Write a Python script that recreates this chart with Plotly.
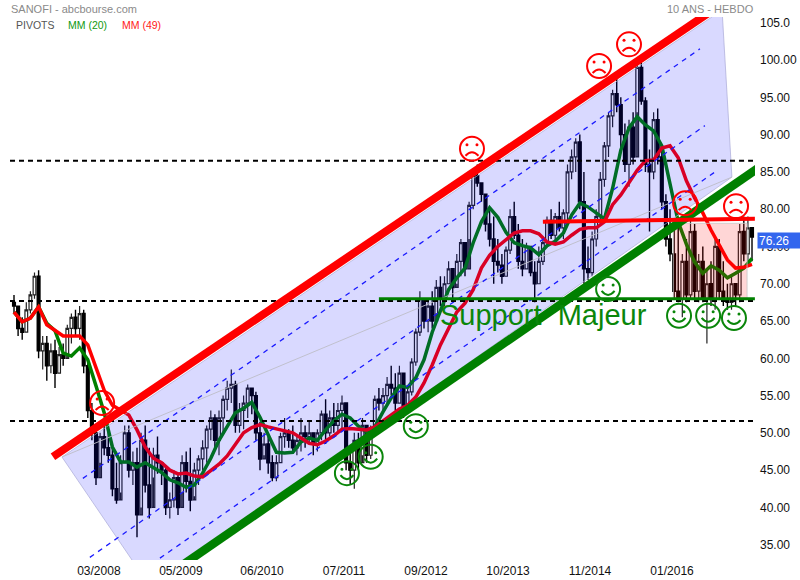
import plotly.graph_objects as go

# weekly price candles, sampled along the time axis (bar index)
high = [68.5,67,65.5,67.5,69,71.5,71.8,63,63,62,
        62.5,61.5,62,64.5,66,66.5,67,66.5,60,54,
        51,50,51.5,50.5,48,46,47,51,51,47.5,
        48,50,51,48,48,49.5,46,45.5,42,45,
        44.5,47,47.5,48,46,47,49,51,53,52.5,
        53,55,57,58.5,57,54,55,56.5,56,55.5,
        51.5,50,49.5,47,47,50,52,50.5,51,49.5,
        52,51,51.5,50,50.5,53,54.5,53,54,54,
        55,54,47.5,50,50,52,50,51,55,56,
        56,57.5,59,58,59,55.5,56,60,64,69,
        68,68,69,70.5,71,71,73,72,74,76,
        75,81,85,86,83.5,82,80,79,76,74,
        75,80,81,78,76,75.5,74,73,75,76,
        79,80,79.5,81,80,86,88,89.5,90,85,
        75,77,80,85,89,93,96,98,95,91.5,
        92,93,99.5,100,95,88,93,93.5,88,82,
        80,78,77.5,74,76,78.5,78,74,75,72,
        73,76,76,73,70,71,69.5,78,79,79,76.5]
low = [66,63,62.5,63.5,66,68,60,58.5,57,58,
       56,58,59,60.5,62,63,62.5,58,52,49,
       43,46,47,46,41.5,40.5,42,46,44,43,
       36,40,42,38.5,44,44.5,43,39,38.5,40,
       39,42,42,39.5,41.5,43,45,46,49,48,
       47,50,53,54,50,50,50.5,52,52.5,49,
       45,47,44.5,43.5,43.5,46,48,48,47.5,47,
       47.5,48,48.5,47,47.5,49,48.5,49.5,50,50,
       50.5,45,43,42.5,45,47,46,46.5,50,53,
       53,54,55,53,54,52,53,55,59,63,
       64,63.5,64,66,67,67,70,68,70,71,
       71,76,80,83,81,77,75,70,71.5,70,
       71,74,76,72,71,72,71,67.5,70,72.5,
       75,76,75.5,77,76,78,84,85,80,70,
       70.5,71,75,78,83,87,91,93,88,85,
       83,86,93,94,85,77,84,86,80,75,
       73,68,67.5,65.5,67.5,68,68,67.5,67.5,62,
       67,66.5,68,67,66.5,66.5,67,67.5,73,72.5,73]
close = [67,64,63.5,66.5,68.5,71,61,62,59,61,
         58,60.5,60,64,65.5,64,66,59,53,50,
         44,49.5,48,47,42.5,41,46,50,45,46,
         39,49,43,40,47,46,45,40,41,44,
         40,46,43.5,41,45,46.5,48,50.5,52,49,
         52,54.5,56,56.5,51,53,54,56,55,50,
         46.5,48.5,46,44,46,49.5,50,49,48,49,
         50,49.5,50,48.5,50,52.5,50,52,51,53,
         54,46,45,49,46,51,47,50.5,54.5,54,
         55,56.5,56,54,58,53,55.5,59.5,63.5,68,
         65,67,65,69.5,68,70,72,69.5,73,75.5,
         72,80.5,84.5,83.5,82,78,76,73,72.5,71,
         74.5,79,76.5,73,72,75,71.5,70,73,75.5,
         78.5,76.5,79,77.5,79.5,85,87,89,81,72,
         71.5,76,79,84,88.5,92.5,95.5,94,90,86,
         91,87,99,94.5,86,85,92,87,81,76,
         74,69,68,73,68.5,77,69,73,68,70,
         68,75,69,68,67.5,70,68.5,77,74,77.5,76.26]
open_ = [67.5] + close[:-1]

# moving averages, read every second bar
mm20 = [66.2,64.9,65.4,66.9,64.7,63.7,60.7,60.3,61.4,59.8,56.3,52.7,48.1,46.1,46.1,45.4,46.0,45.4,44.7,43.7,
        43.3,42.7,43.0,44.6,46.6,49.0,50.8,52.7,53.3,54.1,52.1,49.8,47.4,47.3,47.4,48.8,49.3,49.0,50.4,51.6,
        52.5,52.0,50.9,50.1,50.8,52.8,54.7,56.3,56.1,57.4,59.8,63.5,66.5,69.2,70.8,72.1,75.5,78.3,80.2,78.9,
        76.9,75.5,75.1,74.8,73.9,75.1,75.7,76.8,79.2,80.8,80.3,79.5,78.7,82.8,87.9,90.9,92.4,91.3,90.5,88.5,
        83.5,78.3,75.3,72.9,71.4,72.4,71.8,70.8,71.4,72.1,73.4]
mm49 = [66.2,64.9,65.4,66.9,64.5,63.7,63.0,63.0,63.0,61.8,58.8,55.7,53.7,53.1,52.4,50.4,48.1,46.6,46.0,45.0,
        44.5,44.6,44.2,44.1,44.9,45.8,46.9,48.4,50.0,50.7,51.1,50.8,50.5,50.3,50.0,49.3,48.6,48.4,48.9,49.6,
        50.5,50.6,50.5,50.4,50.8,51.6,52.5,53.2,53.7,54.8,56.7,59.1,61.8,64.1,66.2,67.4,69.2,72.1,73.8,75.0,
        75.9,76.8,77.1,77.1,76.7,75.6,75.3,75.6,76.5,77.3,77.5,77.5,78.3,80.6,81.9,83.5,85.2,86.5,86.6,88.2,
        88.5,86.9,83.8,81.5,79.5,77.2,75.2,73.2,72.1,72.2,72.6]

x_tick_pos = [20.7,40.7,60.5,80.5,100.5,120.5,140.5,160.5]
x_tick_labels = ["03/2008","05/2009","06/2010","07/2011","09/2012","10/2013","11/2014","01/2016"]
y_tick_vals = [105,100,95,90,85,80,75,70,65,60,55,50,45,40,35]
y_tick_labels = ["105.0","100.00","95.00","90.00","85.00","80.00","75.00","70.00","65.00","60.00","55.00","50.00","45.00","40.00","35.00"]

pivot_levels = [86.5,67.7,51.6]
sad_x = [21.5,111.7,142.7,150,163.7,176.1]
sad_y = [54.0,88.1,99.2,102.1,80.8,80.4]
happy_x = [81.2,87,98,144.9,162.2,169.3,175.6]
happy_y = [44.6,46.8,50.9,69.3,65.7,65.7,65.4]

channel_x = [11.7,172.7,175.1,33.3]
channel_y = [46.76,106.7,84.3,29.3]

GREEN = "#0a860a"
LEFT, RIGHT, TOP, BOTTOM = 10, 755, 17, 560
X0 = -0.9756; X1 = 180.73
Y1 = 105.77; Y0 = 32.95
def px(v): return (v - LEFT) / (RIGHT - LEFT)
def py(v): return (BOTTOM - v) / (BOTTOM - TOP)

idx = list(range(len(close)))
ma_idx = idx[::2]

fig = go.Figure()
fig.add_trace(go.Candlestick(x=idx, open=open_, high=high, low=low, close=close,
    increasing=dict(fillcolor="#ffffff", line=dict(color="#222222", width=1.2)),
    decreasing=dict(fillcolor="#000000", line=dict(color="#000000", width=1.4)),
    whiskerwidth=0, showlegend=False, hoverinfo="skip"))
fig.add_trace(go.Scatter(x=ma_idx, y=mm20, mode="lines", line=dict(color="#008000", width=3.5), showlegend=False, hoverinfo="skip"))
fig.add_trace(go.Scatter(x=ma_idx, y=mm49, mode="lines", line=dict(color="#ff0000", width=3.5), showlegend=False, hoverinfo="skip"))

shapes = []
path = "M " + " L ".join(f"{a} {b}" for a, b in zip(channel_x, channel_y)) + " Z"
shapes.append(dict(type="path", path=path, xref="x", yref="y", layer="above",
                   fillcolor="rgba(0,0,255,0.15)", line=dict(color="rgba(170,170,215,0.7)", width=1)))
shapes.append(dict(type="rect", xref="x", yref="y", x0=160.8, x1=178.8, y0=68.0, y1=78.1, layer="above",
                   fillcolor="rgba(255,0,0,0.16)", line=dict(color="rgba(200,200,200,0.8)", width=1)))

def seg(x0, y0, x1, y1, color, width, dash="solid"):
    shapes.append(dict(type="line", xref="x", yref="y", x0=x0, y0=y0, x1=x1, y1=y1, layer="above",
                       line=dict(color=color, width=width, dash=dash)))

seg(11.7,46.76,175.1,84.3,"rgba(190,190,200,0.9)",1)
seg(16.8,43.9,167.3,101.5,"#1a1aff",1.3,"5px,5px")
seg(18.5,33.3,168.5,91.2,"#1a1aff",1.3,"5px,5px")
seg(35.6,33.2,171,85,"#1a1aff",1.3,"5px,5px")
for lv in pivot_levels:
    shapes.append(dict(type="line", xref="x", yref="y", x0=X0, x1=X1, y0=lv, y1=lv, layer="above",
                       line=dict(color="#000000", width=2, dash="5px,4px")))
seg(9.5,46.8,182,111.0,"#ff0000",8)
seg(38,31.1,182,85.7,"#008000",8.5)
seg(129,78.3,180.7,78.7,"#ff0000",4)
seg(89,68.0,180.7,68.0,"#008000",3)

def face(x, y, color, happy):
    base = dict(xref="x", yref="y", xsizemode="pixel", ysizemode="pixel", xanchor=x, yanchor=y, layer="above")
    shapes.append(dict(type="circle", x0=-12, x1=12, y0=-12, y1=12, line=dict(color=color, width=2), **base))
    for ex in (-5, 5):
        shapes.append(dict(type="circle", x0=ex-1.5, x1=ex+1.5, y0=2.5, y1=5.5, fillcolor=color,
                           line=dict(color=color, width=0), **base))
    mouth = "M -6.5 -2 Q 0 -10 6.5 -2" if happy else "M -6.5 -7 Q 0 0 6.5 -7"
    shapes.append(dict(type="path", path=mouth, line=dict(color=color, width=2), **base))

for a, b in zip(sad_x, sad_y):
    face(a, b, "#ff0000", False)
for a, b in zip(happy_x, happy_y):
    face(a, b, GREEN, True)

def label(x, y, text, color, size=10.5, anchor="left", **kw):
    return dict(xref="paper", yref="paper", x=px(x), y=py(y), text=text, showarrow=False, xanchor=anchor,
                yanchor="middle", font=dict(family="Liberation Sans", size=size, color=color), **kw)

annotations = [
    label(9, 9, "SANOFI - abcbourse.com", "#8a8a8a", size=11),
    label(13.5, 25, "PIVOTS", "#555555"),
    label(65.5, 25, "MM (20)", "#119911"),
    label(119.5, 25, "MM (49)", "#ff2020"),
    label(756, 9, "10 ANS - HEBDO", "#8a8a8a", size=11, anchor="right"),
    label(438, 315, "Support\u00a0\u00a0Majeur", GREEN, size=29),
    label(757, 240.5, "76.26", "#ffffff", size=12, bgcolor="#3366ee", width=41, align="left", height=13),
]

fig.update_layout(
    width=800, height=580, margin=dict(l=LEFT, r=800-RIGHT, t=TOP, b=580-BOTTOM, autoexpand=False),
    paper_bgcolor="white", plot_bgcolor="white", showlegend=False, boxgap=0.05,
    shapes=shapes, annotations=annotations,
    font=dict(family="Liberation Sans", size=12, color="#111111"),
    xaxis=dict(range=[X0, X1], rangeslider=dict(visible=False), showgrid=False, zeroline=False, showline=False,
               tickmode="array", tickvals=x_tick_pos, ticktext=x_tick_labels, ticks="", tickfont=dict(size=12),
               ticklabelstandoff=2),
    yaxis=dict(range=[Y0, Y1], side="right", showgrid=False, zeroline=False, showline=False,
               tickmode="array", tickvals=y_tick_vals, ticktext=y_tick_labels, ticks="", tickfont=dict(size=12),
               ticklabelstandoff=4),
)
fig.write_html("out.html", config=dict(displayModeBar=False),
               post_script="document.body.style.margin='0';document.documentElement.style.overflow='hidden';")
